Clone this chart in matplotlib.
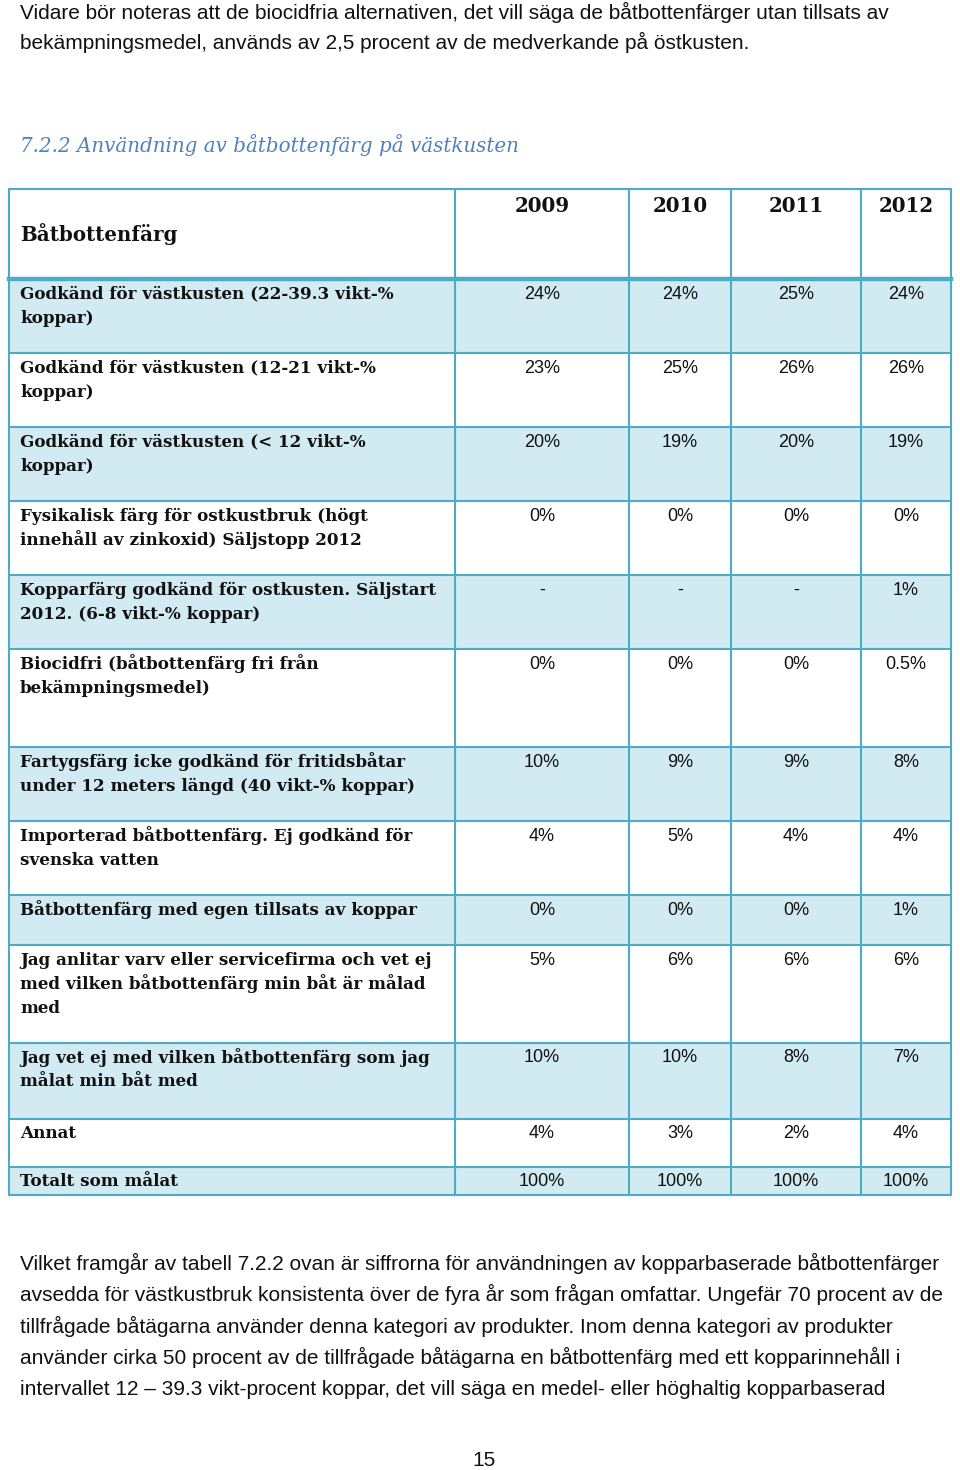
import matplotlib
matplotlib.use("Agg")
import matplotlib.pyplot as plt
from matplotlib.patches import Rectangle

# table content
years = ["2009", "2010", "2011", "2012"]
labels = [
    "Godkänd för västkusten (22-39.3 vikt-%\nkoppar)",
    "Godkänd för västkusten (12-21 vikt-%\nkoppar)",
    "Godkänd för västkusten (< 12 vikt-%\nkoppar)",
    "Fysikalisk färg för ostkustbruk (högt\ninnehåll av zinkoxid) Säljstopp 2012",
    "Kopparfärg godkänd för ostkusten. Säljstart\n2012. (6-8 vikt-% koppar)",
    "Biocidfri (båtbottenfärg fri från\nbekämpningsmedel)",
    "Fartygsfärg icke godkänd för fritidsbåtar\nunder 12 meters längd (40 vikt-% koppar)",
    "Importerad båtbottenfärg. Ej godkänd för\nsvenska vatten",
    "Båtbottenfärg med egen tillsats av koppar",
    "Jag anlitar varv eller servicefirma och vet ej\nmed vilken båtbottenfärg min båt är målad\nmed",
    "Jag vet ej med vilken båtbottenfärg som jag\nmålat min båt med",
    "Annat",
    "Totalt som målat",
]
v2009 = [24, 23, 20, 0, None, 0, 10, 4, 0, 5, 10, 4, 100]
v2010 = [24, 25, 19, 0, None, 0, 9, 5, 0, 6, 10, 3, 100]
v2011 = [25, 26, 20, 0, None, 0, 9, 4, 0, 6, 8, 2, 100]
v2012 = [24, 26, 19, 0, 1, 0.5, 8, 4, 1, 6, 7, 4, 100]

intro = [
    "Vidare bör noteras att de biocidfria alternativen, det vill säga de båtbottenfärger utan tillsats av",
    "bekämpningsmedel, används av 2,5 procent av de medverkande på östkusten.",
]
heading = "7.2.2 Användning av båtbottenfärg på västkusten"
outro = [
    "Vilket framgår av tabell 7.2.2 ovan är siffrorna för användningen av kopparbaserade båtbottenfärger",
    "avsedda för västkustbruk konsistenta över de fyra år som frågan omfattar. Ungefär 70 procent av de",
    "tillfrågade båtägarna använder denna kategori av produkter. Inom denna kategori av produkter",
    "använder cirka 50 procent av de tillfrågade båtägarna en båtbottenfärg med ett kopparinnehåll i",
    "intervallet 12 – 39.3 vikt-procent koppar, det vill säga en medel- eller höghaltig kopparbaserad",
]
page_no = "15"

# layout (pixels)
col_edges = [9, 455, 629, 731, 861, 951]
row_edges = [189, 279, 353, 427, 501, 575, 649, 747, 821, 895, 945, 1043, 1119, 1167, 1195]

BORDER = "#4BACC6"
SHADE = "#D2EAF1"
SERIF = ["DejaVu Serif"]
SANS = ["Liberation Sans", "DejaVu Sans"]
INK = "#111111"

fig = plt.figure(figsize=(9.6, 14.7), dpi=100)
ax = fig.add_axes([0, 0, 1, 1])
ax.set_xlim(0, 960)
ax.set_ylim(1470, 0)
ax.axis("off")

def fmt(v):
    if v is None:
        return "-"
    if v == int(v):
        return f"{int(v)}%"
    return f"{v}%"

# paragraph text
for i, line in enumerate(intro):
    ax.text(20, 12 + i * 30, line, family=SANS, fontsize=15, va="center", ha="left", color=INK)
ax.text(20, 145, heading, family=SERIF, fontsize=14.3, style="italic", va="center", ha="left", color="#4F81BD")
for i, line in enumerate(outro):
    ax.text(20, 1263 + i * 31.6, line, family=SANS, fontsize=15, va="center", ha="left", color=INK)
ax.text(484, 1460, page_no, family=SANS, fontsize=15, va="center", ha="center", color=INK)

# row shading, every other body row
for r in range(len(labels)):
    y0, y1 = row_edges[r + 1], row_edges[r + 2]
    if r % 2 == 0:
        ax.add_patch(Rectangle((col_edges[0], y0), col_edges[-1] - col_edges[0], y1 - y0,
                               facecolor=SHADE, edgecolor="none", zorder=1))

# grid lines
for x in col_edges:
    ax.plot([x, x], [row_edges[0], row_edges[-1]], color=BORDER, lw=1.5, zorder=3, solid_capstyle="projecting")
for k, y in enumerate(row_edges):
    ax.plot([col_edges[0], col_edges[-1]], [y, y], color=BORDER, lw=3.2 if k == 1 else 1.5,
            zorder=3, solid_capstyle="projecting")

# header
ax.text(20, 234, "Båtbottenfärg", family=SERIF, fontsize=14.3, fontweight="bold", va="center", ha="left", color=INK)
centers = [(col_edges[j + 1] + col_edges[j + 2]) / 2 for j in range(4)]
for j, yr in enumerate(years):
    ax.text(centers[j], 206, yr, family=SERIF, fontsize=14.3, fontweight="bold", va="center", ha="center", color=INK)

# body
cols = [v2009, v2010, v2011, v2012]
for r, lab in enumerate(labels):
    top = row_edges[r + 1]
    for i, part in enumerate(lab.split("\n")):
        ax.text(20, top + 15 + i * 24, part, family=SERIF, fontsize=12.1, fontweight="bold",
                va="center", ha="left", color=INK, zorder=4)
    for j in range(4):
        ax.text(centers[j], top + 15, fmt(cols[j][r]), family=SANS, fontsize=13,
                va="center", ha="center", color=INK, zorder=4)

fig.savefig("out.png", dpi=100)
